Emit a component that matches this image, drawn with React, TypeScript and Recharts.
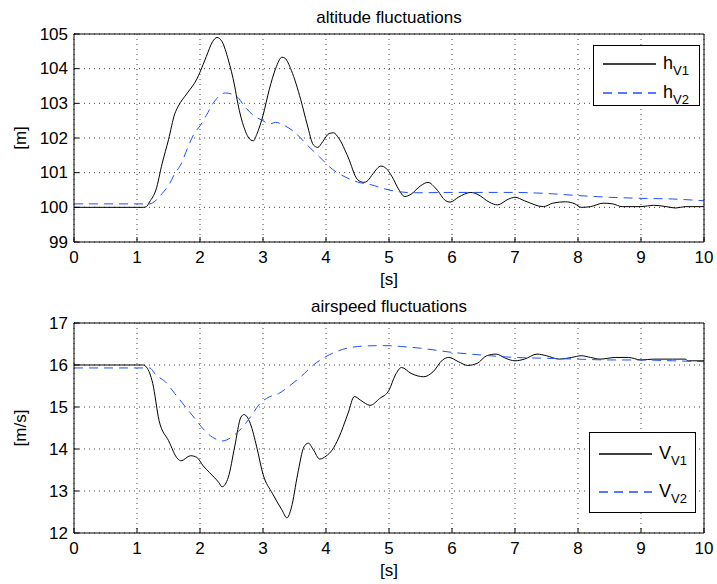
import React from 'react';
import { LineChart, Line, XAxis, YAxis, CartesianGrid, Legend } from 'recharts';

const FONT = '"Liberation Sans", Arial, Helvetica, sans-serif';

// time axis [s]
const xTicks = [0, 1, 2, 3, 4, 5, 6, 7, 8, 9, 10];
const hTicks = [99, 100, 101, 102, 103, 104, 105];
const vTicks = [12, 13, 14, 15, 16, 17];

type Pt = [number, number];

// altitude, vehicle 1 [t, h]
const hV1: Pt[] = [
    [0, 100], [1.1, 100], [1.15, 100.02], [1.2, 100.16], [1.3, 100.5], [1.4, 101.27], [1.5, 101.95],
    [1.6, 102.7], [1.65, 102.9], [1.8, 103.3], [1.95, 103.7], [2.0, 103.9], [2.1, 104.35], [2.2, 104.78],
    [2.27, 104.9], [2.35, 104.78], [2.45, 104.25], [2.55, 103.5], [2.6, 103.0], [2.7, 102.3], [2.8, 101.95],
    [2.85, 101.92], [2.9, 102.1], [3.0, 102.65], [3.1, 103.4], [3.2, 104.0], [3.3, 104.33], [3.35, 104.3],
    [3.45, 103.95], [3.6, 103.1], [3.7, 102.4], [3.8, 101.8], [3.87, 101.73], [3.95, 101.9], [4.05, 102.13],
    [4.12, 102.15], [4.2, 102.0], [4.35, 101.45], [4.5, 100.8], [4.6, 100.72], [4.65, 100.75], [4.75, 100.98],
    [4.87, 101.19], [4.95, 101.13], [5.05, 100.88], [5.15, 100.53], [5.25, 100.31], [5.35, 100.38],
    [5.5, 100.62], [5.62, 100.72], [5.75, 100.53], [5.9, 100.19], [5.97, 100.15], [6.1, 100.29],
    [6.3, 100.43], [6.4, 100.38], [6.6, 100.14], [6.72, 100.07], [6.9, 100.24], [7.0, 100.29],
    [7.15, 100.19], [7.45, 100.02], [7.6, 100.12], [7.8, 100.16], [7.95, 100.1], [8.05, 100.0],
    [8.2, 100.02], [8.4, 100.12], [8.55, 100.1], [8.7, 100.02], [9.0, 100.02], [9.2, 100.06],
    [9.4, 100.02], [9.55, 99.98], [9.7, 100.02], [10, 100.02],
];

// altitude, vehicle 2 [t, h]
const hV2: Pt[] = [
    [0, 100.1], [1.2, 100.1], [1.3, 100.2], [1.4, 100.4], [1.5, 100.63], [1.6, 100.97], [1.7, 101.25],
    [1.8, 101.7], [1.9, 102.1], [2.0, 102.35], [2.1, 102.65], [2.2, 102.98], [2.3, 103.2], [2.4, 103.3],
    [2.5, 103.27], [2.6, 103.17], [2.7, 102.93], [2.85, 102.65], [3.0, 102.5], [3.1, 102.4], [3.2, 102.45],
    [3.35, 102.35], [3.5, 102.17], [3.7, 101.8], [3.9, 101.45], [4.1, 101.1], [4.3, 100.88], [4.5, 100.73],
    [4.7, 100.66], [4.9, 100.55], [5.0, 100.5], [5.4, 100.42], [6.0, 100.43], [7.0, 100.43], [7.5, 100.4],
    [8.0, 100.34], [8.5, 100.29], [9.0, 100.26], [9.5, 100.24], [10, 100.19],
];

// airspeed, vehicle 1 [t, V]
const vV1: Pt[] = [
    [0, 16], [1.1, 16], [1.15, 15.95], [1.25, 15.56], [1.35, 14.68], [1.5, 14.2], [1.65, 13.76], [1.7, 13.72],
    [1.85, 13.84], [1.95, 13.8], [2.05, 13.6], [2.15, 13.44], [2.3, 13.2], [2.35, 13.1], [2.45, 13.33],
    [2.55, 14.05], [2.65, 14.76], [2.7, 14.82], [2.8, 14.6], [2.9, 14.05], [3.0, 13.4], [3.15, 12.94],
    [3.3, 12.55], [3.38, 12.36], [3.45, 12.6], [3.55, 13.4], [3.65, 14.05], [3.72, 14.14], [3.8, 13.98],
    [3.9, 13.76], [4.0, 13.83], [4.1, 13.98], [4.2, 14.26], [4.35, 14.85], [4.45, 15.25], [4.55, 15.16],
    [4.7, 15.04], [4.85, 15.2], [5.0, 15.4], [5.1, 15.76], [5.2, 15.94], [5.35, 15.8], [5.55, 15.72],
    [5.7, 15.84], [5.85, 16.12], [5.95, 16.18], [6.1, 16.08], [6.25, 15.99], [6.4, 16.04], [6.55, 16.22],
    [6.7, 16.26], [6.85, 16.16], [7.0, 16.1], [7.15, 16.14], [7.35, 16.26], [7.5, 16.22], [7.7, 16.14],
    [7.9, 16.18], [8.05, 16.22], [8.2, 16.18], [8.35, 16.14], [8.6, 16.18], [8.8, 16.18], [9.0, 16.12],
    [9.2, 16.14], [9.5, 16.14], [9.7, 16.14], [9.75, 16.1], [10, 16.1],
];

// airspeed, vehicle 2 [t, V]
const vV2: Pt[] = [
    [0, 15.93], [1.2, 15.93], [1.3, 15.76], [1.45, 15.6], [1.6, 15.32], [1.75, 15.04], [1.9, 14.76],
    [2.05, 14.48], [2.2, 14.28], [2.35, 14.19], [2.5, 14.28], [2.65, 14.48], [2.8, 14.76], [2.95, 15.08],
    [3.1, 15.24], [3.25, 15.32], [3.4, 15.48], [3.6, 15.72], [3.8, 16.0], [4.0, 16.2], [4.2, 16.34],
    [4.5, 16.44], [4.8, 16.46], [5.0, 16.46], [5.2, 16.44], [5.5, 16.4], [5.8, 16.34], [6.0, 16.3],
    [6.3, 16.26], [6.6, 16.22], [7.0, 16.18], [7.5, 16.16], [8.0, 16.14], [8.5, 16.12], [9.0, 16.12],
    [9.5, 16.1], [10, 16.08],
];

const BLUE = '#1f4fff';
const W = 717;
const H = 292;
const TICK_LEN = 5;

const toRows = (pts: Pt[]) => pts.map(([t, v]) => ({ t, v }));

const LeftTick = ({ x, y, payload }: any) => (
    <g>
        <text x={x} y={y} textAnchor="end" dominantBaseline="central" fontSize={17} fontFamily={FONT} fill="#000">
            {payload.value}
        </text>
        <line x1={x + 6} x2={x + 6 + TICK_LEN} y1={y} y2={y} stroke="#000" />
    </g>
);

const RightTick = ({ x, y }: any) => <line x1={x} x2={x - TICK_LEN} y1={y} y2={y} stroke="#000" />;

const BottomTick = ({ x, y, payload }: any) => (
    <g>
        <line x1={x} x2={x} y1={y} y2={y - TICK_LEN} stroke="#000" />
        <text x={x} y={y + 15} textAnchor="middle" dominantBaseline="central" fontSize={17} fontFamily={FONT} fill="#000">
            {payload.value}
        </text>
    </g>
);

const TopTick = ({ x, y }: any) => <line x1={x} x2={x} y1={y} y2={y + TICK_LEN} stroke="#000" />;

const makeLegend = (box: { w: number; h: number; rows: number[] }) => (props: any) => {
    const items = props.payload || [];
    return (
        <div style={{ position: 'relative', width: box.w, height: box.h, border: '1px solid #000', background: '#fff', boxSizing: 'border-box', fontFamily: FONT }}>
            {items.map((it: any, i: number) => {
                const name: string = it.value;
                const dash = it.payload?.strokeDasharray;
                return (
                    <div key={name} style={{ position: 'absolute', left: 0, top: box.rows[i] - 12, height: 24, width: box.w }}>
                        <svg width={54} height={24} style={{ position: 'absolute', left: 9, top: 0 }}>
                            <line x1={0} x2={53} y1={12} y2={12} stroke={it.color} strokeWidth={1.3} strokeDasharray={dash} />
                        </svg>
                        <span style={{ position: 'absolute', left: 69, top: 0, fontSize: 18, lineHeight: '22px', color: '#000' }}>
                            {name.slice(0, 1)}
                            <sub style={{ fontSize: 13, verticalAlign: '-6px' }}>{name.slice(1)}</sub>
                        </span>
                    </div>
                );
            })}
        </div>
    );
};

interface PanelProps {
    title: string;
    yLabel: string;
    yTicks: number[];
    s1: Pt[];
    s2: Pt[];
    names: [string, string];
    top: number;
    bottom: number;
    legend: { left: number; top: number; w: number; h: number; rows: number[] };
}

function Panel({ title, yLabel, yTicks, s1, s2, names, top, bottom, legend }: PanelProps) {
    const domain = [yTicks[0], yTicks[yTicks.length - 1]];
    return (
        <div style={{ position: 'relative', width: W, height: H }}>
            <div style={{ position: 'absolute', left: 74, width: 630, top: top - 26, lineHeight: '20px', textAlign: 'center', fontSize: 17, fontFamily: FONT }}>
                {title}
            </div>
            <LineChart width={W} height={H} margin={{ top: 0, right: 0, bottom: 0, left: 0 }}>
                <CartesianGrid xAxisId="b" yAxisId="l" stroke="#444" strokeDasharray="1 4" />
                <XAxis xAxisId="b" dataKey="t" type="number" domain={[0, 10]} ticks={xTicks} interval={0}
                    height={bottom} tickSize={0} tickMargin={0} tickLine={false} axisLine={{ stroke: '#000' }} tick={<BottomTick />} />
                <XAxis xAxisId="t" orientation="top" dataKey="t" type="number" domain={[0, 10]} ticks={xTicks} interval={0}
                    height={top} tickSize={0} tickMargin={0} tickLine={false} axisLine={{ stroke: '#000' }} tick={<TopTick />} />
                <YAxis yAxisId="l" type="number" domain={domain} ticks={yTicks} interval={0} width={74}
                    tickSize={0} tickMargin={6} tickLine={false} axisLine={{ stroke: '#000' }} tick={<LeftTick />} />
                <YAxis yAxisId="r" orientation="right" type="number" domain={domain} ticks={yTicks} interval={0} width={13}
                    tickSize={0} tickMargin={0} tickLine={false} axisLine={{ stroke: '#000' }} tick={<RightTick />} />
                <Legend layout="horizontal" verticalAlign="middle" align="center"
                    wrapperStyle={{ left: legend.left, top: legend.top, width: legend.w, height: legend.h }}
                    content={makeLegend(legend)} />
                <Line data={toRows(s1)} dataKey="v" name={names[0]} xAxisId="b" yAxisId="l" type="monotone"
                    stroke="#000" strokeWidth={1} dot={false} isAnimationActive={false} />
                <Line data={toRows(s2)} dataKey="v" name={names[1]} xAxisId="b" yAxisId="l" type="monotone"
                    stroke={BLUE} strokeWidth={1} strokeDasharray="9 6" dot={false} isAnimationActive={false} />
            </LineChart>
            <div style={{ position: 'absolute', left: 74, width: 630, top: H - bottom + 28, lineHeight: '20px', textAlign: 'center', fontSize: 17, fontFamily: FONT }}>
                [s]
            </div>
            <div style={{ position: 'absolute', left: 21 - 40, width: 80, top: top + (H - top - bottom) / 2 - 10, lineHeight: '20px', textAlign: 'center', fontSize: 17, fontFamily: FONT, transform: 'rotate(-90deg)' }}>
                {yLabel}
            </div>
        </div>
    );
}

export default function App() {
    return (
        <div style={{ position: 'absolute', left: 0, top: 0, width: W, height: 584, background: '#fff' }}>
            <Panel title="altitude fluctuations" yLabel="[m]" yTicks={hTicks} s1={hV1} s2={hV2} names={['hV1', 'hV2']}
                top={34} bottom={50} legend={{ left: 593, top: 45, w: 107, h: 61, rows: [18, 47] }} />
            <Panel title="airspeed fluctuations" yLabel="[m/s]" yTicks={vTicks} s1={vV1} s2={vV2} names={['VV1', 'VV2']}
                top={31} bottom={51} legend={{ left: 589, top: 140, w: 107, h: 81, rows: [21, 59] }} />
        </div>
    );
}
